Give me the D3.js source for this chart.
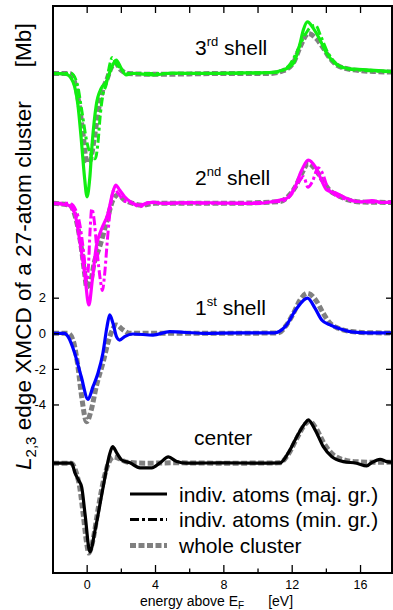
<!DOCTYPE html>
<html>
<head>
<meta charset="utf-8">
<script src="https://cdn.jsdelivr.net/npm/d3@7"></script>
<style>
  html, body { margin: 0; padding: 0; background: #fff; }
  svg { display: block; font-family: "Liberation Sans", Arial, sans-serif; }
</style>
</head>
<body>
<svg id="chart" width="393" height="610"></svg>
<script>
// L2,3 edge XMCD spectra of a 27-atom cluster, shell by shell.
// Each series: [energy above E_F (eV), XMCD (Mb)], relative to its own baseline.

const majorTicks = [0, 4, 8, 12, 16];
const minorTicks = [2, 6, 10, 14];
const yTicks = [2, 0, -2, -4];

const shellNames = ["center", "1st", "2nd", "3rd"];
const shellOffsets = [-7.3, 0, 7.3, 14.6];
const shellColors = ["#000000", "#0000ff", "#ff00ff", "#11ee11"];

const centerMaj = [[-1.97,0],[-0.88,0],[-0.68,-0.56],[-0.45,-1.0],[-0.29,-1.35],[-0.1,-2.82],[0.19,-4.99],[0.49,-3.77],[0.97,-1.31],[1.36,0.56],[1.52,0.93],[1.76,0.58],[2.05,0.18],[2.54,0.02],[3.12,-0.26],[3.81,-0.26],[4.29,0.02],[4.78,0.35],[5.27,0.09],[5.85,0],[8,0.02],[10,0],[11.32,0.02],[11.8,0.58],[12.3,1.49],[12.78,2.24],[12.97,2.43],[13.37,1.87],[13.85,0.93],[14.34,0.37],[15.02,0.09],[15.8,0],[16.39,-0.15],[16.68,0.03],[17.17,0.22],[17.56,0.09],[17.9,0.05]];
const centerWhole = [[-1.97,0],[-0.9,0],[-0.62,-0.5],[-0.4,-1.4],[-0.2,-2.9],[0,-4.5],[0.12,-5.05],[0.35,-4.4],[0.7,-2.4],[1.0,-0.9],[1.3,0.05],[1.6,0.35],[1.9,0.25],[2.4,0.05],[3.5,0],[5,0.02],[8,0],[11.3,0.02],[11.8,0.5],[12.3,1.4],[12.8,2.2],[13.05,2.35],[13.4,2.0],[13.9,1.1],[14.4,0.5],[15,0.2],[15.8,0.08],[17,0.05],[17.9,0.05]];

const firstMaj = [[-1.97,0],[-1.29,0],[-1.09,-0.19],[-0.7,-1.12],[-0.32,-2.43],[0.08,-3.71],[0.37,-3.0],[0.66,-2.25],[0.95,-1.12],[1.19,0.37],[1.35,1.03],[1.54,0.56],[1.75,-0.2],[1.93,-0.38],[2.22,-0.19],[2.71,-0.04],[3.88,-0.1],[4.86,0.09],[6.81,0],[9,0.02],[11,0.02],[11.62,0.37],[12.3,1.4],[12.92,1.97],[13.37,1.4],[13.76,0.75],[14.25,0.47],[14.73,0.28],[15.5,0.08],[16.5,0.02],[17.9,0.02]];
const firstWhole = [[-1.97,0],[-1.1,0],[-0.8,-0.38],[-0.51,-1.88],[-0.32,-3.37],[0,-4.97],[0.27,-4.3],[0.56,-3.0],[0.95,-1.67],[1.35,-0.19],[1.73,0.47],[2.13,0.19],[2.5,0],[4,0],[8,0],[11.2,0.02],[11.7,0.47],[12.1,1.12],[12.49,1.87],[12.92,2.25],[13.47,1.78],[13.85,1.12],[14.25,0.56],[14.73,0.28],[15.5,0.1],[16.5,0.03],[17.9,0.02]];

const secondMaj = [[-1.97,0],[-1.09,-0.1],[-0.7,-0.56],[-0.41,-2.06],[-0.12,-3.93],[0.13,-5.71],[0.33,-4.31],[0.56,-2.44],[0.85,-1.5],[1.25,-0.56],[1.54,0.65],[1.7,1.03],[1.93,0.75],[2.22,0.37],[2.71,0],[3.1,-0.1],[3.88,0.07],[4.47,0],[6,0.05],[8,0.02],[10,0],[11.32,0.19],[11.7,0.28],[12.2,0.93],[12.59,1.87],[12.97,2.43],[13.37,2.06],[13.66,1.49],[14.05,0.75],[14.64,0.56],[15.22,0.28],[16,0.09],[16.7,0.15],[17.3,0.05],[17.9,0.1]];
const secondMin = [[-1.97,0],[-1.0,0],[-0.65,-0.35],[-0.38,-1.3],[-0.15,-3.0],[0,-4.4],[0.1,-3.6],[0.2,-1.5],[0.3,-0.3],[0.42,-0.8],[0.6,-2.6],[0.8,-4.3],[0.92,-4.9],[1.05,-4.0],[1.2,-2.2],[1.35,-0.6],[1.5,0.5],[1.62,0.8],[1.85,0.55],[2.2,0.15],[2.7,0],[3.1,-0.2],[3.6,0.05],[4.5,0],[8,0],[11.3,0.1],[11.9,0.4],[12.4,1.2],[12.7,1.5],[12.95,0.9],[13.2,1.2],[13.55,2.0],[13.8,1.7],[14.1,0.9],[14.6,0.45],[15.3,0.2],[16,0.08],[17.9,0.05]];
const secondWhole = [[-1.97,0],[-1.0,-0.1],[-0.61,-0.94],[-0.32,-2.44],[-0.12,-3.93],[0,-4.7],[0.2,-4.5],[0.45,-3.3],[0.76,-2.44],[1.15,-1.12],[1.54,0.19],[1.83,0.47],[2.22,0.19],[2.7,0],[3.2,-0.1],[4,0],[8,0],[11.3,0.1],[11.8,0.4],[12.2,0.9],[12.6,1.7],[12.97,2.25],[13.4,1.9],[13.8,1.3],[14.2,0.75],[14.7,0.45],[15.3,0.2],[16,0.08],[17.9,0.05]];

const thirdMaj = [[-1.97,0],[-1.19,-0.05],[-0.8,-0.47],[-0.51,-1.79],[-0.32,-3.66],[-0.12,-5.9],[0.02,-6.93],[0.18,-5.9],[0.33,-3.84],[0.56,-1.78],[0.85,-0.84],[1.15,-0.47],[1.44,0.29],[1.73,0.75],[2.02,0.29],[2.31,-0.08],[2.71,0.01],[3.88,-0.08],[5,0.02],[7,0],[9,0.03],[10.7,0.05],[11.5,0.19],[12.1,0.57],[12.49,1.69],[12.68,2.44],[12.92,2.9],[13.27,2.53],[13.66,1.88],[14.05,1.13],[14.54,0.57],[15.22,0.29],[16.6,0.19],[17.9,0.1]];
const thirdMin = [[-1.97,0],[-0.9,0],[-0.55,-0.6],[-0.3,-2.0],[0,-3.8],[0.25,-4.6],[0.5,-4.8],[0.65,-4.0],[0.8,-2.3],[0.95,-1.2],[1.15,-0.6],[1.35,0.5],[1.5,0.9],[1.7,0.6],[2.0,0.25],[2.4,0],[4,0],[8,0],[11,0.05],[11.8,0.4],[12.3,1.2],[12.8,2.2],[13.1,2.6],[13.4,2.7],[13.7,2.1],[14.1,1.2],[14.6,0.55],[15.3,0.25],[16.5,0.15],[17.9,0.1]];
const thirdWhole = [[-1.97,0],[-1.0,0],[-0.7,-0.5],[-0.45,-1.7],[-0.2,-3.5],[0,-5.0],[0.2,-4.9],[0.45,-3.6],[0.7,-2.0],[0.95,-0.9],[1.2,-0.3],[1.45,0.35],[1.7,0.55],[2.0,0.2],[2.4,0],[4,-0.05],[8,0],[10.7,0],[11.5,0.15],[12.1,0.6],[12.5,1.5],[12.97,2.25],[13.4,2.0],[13.8,1.5],[14.2,0.9],[14.6,0.5],[15.3,0.25],[16.6,0.12],[17.9,0.08]];

const majSeries = [centerMaj, firstMaj, secondMaj, thirdMaj];
const minSeries = [null, null, secondMin, thirdMin];
const wholeSeries = [centerWhole, firstWhole, secondWhole, thirdWhole];

const legendLabels = ["indiv. atoms (maj. gr.)", "indiv. atoms (min. gr.)", "whole cluster"];

// ---- layout ----
const svg = d3.select("#chart");
const plot = { left: 53, right: 392, top: 6, bottom: 573 };

const x = d3.scaleLinear().domain([-2, 17.9]).range([52.5, 392.5]);
const y = d3.scaleLinear().domain([-13.47, 18.39]).range([plot.bottom, plot.top]);

svg.append("clipPath").attr("id", "plotclip")
  .append("rect").attr("x", plot.left).attr("y", plot.top)
  .attr("width", plot.right - plot.left).attr("height", plot.bottom - plot.top);

const curves = svg.append("g").attr("clip-path", "url(#plotclip)");

function lineFor(offset) {
  return d3.line()
    .x(d => x(d[0]))
    .y(d => y(d[1] + offset))
    .curve(d3.curveMonotoneX);
}

const grayStyle = { stroke: "#808080", width: 5, dash: "6,2.5" };
const dashDot = "9,3,3,3";

// whole cluster (gray dashed) underneath
wholeSeries.forEach((s, i) => {
  curves.append("path").datum(s)
    .attr("d", lineFor(shellOffsets[i]))
    .attr("fill", "none")
    .attr("stroke", grayStyle.stroke)
    .attr("stroke-width", grayStyle.width)
    .attr("stroke-dasharray", grayStyle.dash);
});
// minority group (dash-dot)
minSeries.forEach((s, i) => {
  if (!s) return;
  curves.append("path").datum(s)
    .attr("d", lineFor(shellOffsets[i]))
    .attr("fill", "none")
    .attr("stroke", shellColors[i])
    .attr("stroke-width", 3)
    .attr("stroke-dasharray", dashDot);
});
// majority group (solid)
majSeries.forEach((s, i) => {
  curves.append("path").datum(s)
    .attr("d", lineFor(shellOffsets[i]))
    .attr("fill", "none")
    .attr("stroke", shellColors[i])
    .attr("stroke-width", 3.2)
    .attr("stroke-linejoin", "round");
});

// ---- axes ----
const FONT = "Liberation Sans, Arial, sans-serif";
const axBottom = svg.append("g").attr("transform", `translate(0,${plot.bottom})`)
  .call(d3.axisBottom(x).tickValues(majorTicks).tickSize(-8).tickFormat(d3.format("d")));
axBottom.select(".domain").remove();
axBottom.selectAll("text").attr("font-size", 12.5).attr("font-family", FONT).attr("y", 4).attr("dy", "0.93em");
axBottom.selectAll("line").attr("stroke-width", 1.3);
const axBottomMinor = svg.append("g").attr("transform", `translate(0,${plot.bottom})`)
  .call(d3.axisBottom(x).tickValues(minorTicks).tickSize(-4.5).tickFormat(""));
axBottomMinor.select(".domain").remove();
axBottomMinor.selectAll("line").attr("stroke-width", 1.3);

const axTop = svg.append("g").attr("transform", `translate(0,${plot.top})`)
  .call(d3.axisTop(x).tickValues(majorTicks.concat(minorTicks)).tickSize(-7).tickFormat(""));
axTop.select(".domain").remove();
axTop.selectAll("line").attr("stroke-width", 1.3);

const axLeft = svg.append("g").attr("transform", `translate(${plot.left},0)`)
  .call(d3.axisLeft(y).tickValues(yTicks).tickSize(-6).tickFormat(d => d < 0 ? "-" + Math.abs(d) : d));
axLeft.select(".domain").remove();
axLeft.selectAll("line").attr("stroke-width", 1.3);
axLeft.selectAll("text").attr("font-size", 13).attr("font-family", FONT).attr("x", -7);

const axRight = svg.append("g").attr("transform", `translate(${plot.right},0)`)
  .call(d3.axisRight(y).tickValues(yTicks).tickSize(-6).tickFormat(""));
axRight.select(".domain").remove();
axRight.selectAll("line").attr("stroke-width", 1.3);

// frame
svg.append("rect")
  .attr("x", plot.left).attr("y", plot.top)
  .attr("width", plot.right - plot.left).attr("height", plot.bottom - plot.top)
  .attr("fill", "none").attr("stroke", "#000").attr("stroke-width", 2);

// ---- shell labels ----
const labelY = shellOffsets.map(o => y(o) - 18);
function shellLabel(num, sup, yy) {
  const t = svg.append("text").attr("x", 195).attr("y", yy).attr("font-size", 21);
  t.append("tspan").text(num);
  t.append("tspan").attr("font-size", 13).attr("dy", -9).text(sup);
  t.append("tspan").attr("dy", 9).text(" shell");
}
shellLabel("3", "rd", labelY[3]);
shellLabel("2", "nd", labelY[2]);
shellLabel("1", "st", labelY[1]);
svg.append("text").attr("x", 194).attr("y", labelY[0]).attr("font-size", 21).text(shellNames[0]);

// ---- legend ----
const legendRows = [
  { y: 494, color: "#000", width: 3, dash: null },
  { y: 519.5, color: "#000", width: 3, dash: dashDot },
  { y: 545.5, color: grayStyle.stroke, width: grayStyle.width, dash: grayStyle.dash }
];
legendRows.forEach((r, i) => {
  svg.append("line").attr("x1", 130).attr("x2", 167).attr("y1", r.y).attr("y2", r.y)
    .attr("stroke", r.color).attr("stroke-width", r.width)
    .attr("stroke-dasharray", r.dash);
  svg.append("text").attr("x", 179).attr("y", r.y + 7.5).attr("font-size", 21).text(legendLabels[i]);
});

// ---- axis titles ----
const xt = svg.append("text").attr("x", 140).attr("y", 606).attr("font-size", 14);
xt.append("tspan").text("energy above E");
xt.append("tspan").attr("font-size", 10).attr("dy", 3).text("F");
xt.append("tspan").attr("dy", -3).attr("dx", 24).text("[eV]");

const yt = svg.append("text").attr("transform", "translate(31,470) rotate(-90)").attr("font-size", 22.6);
yt.append("tspan").attr("font-style", "italic").text("L");
yt.append("tspan").attr("font-size", 15).attr("dy", 5).text("2,3");
yt.append("tspan").attr("dy", -5).text(" edge XMCD of a 27-atom cluster");
yt.append("tspan").attr("dx", 34).text("[Mb]");
</script>
</body>
</html>
